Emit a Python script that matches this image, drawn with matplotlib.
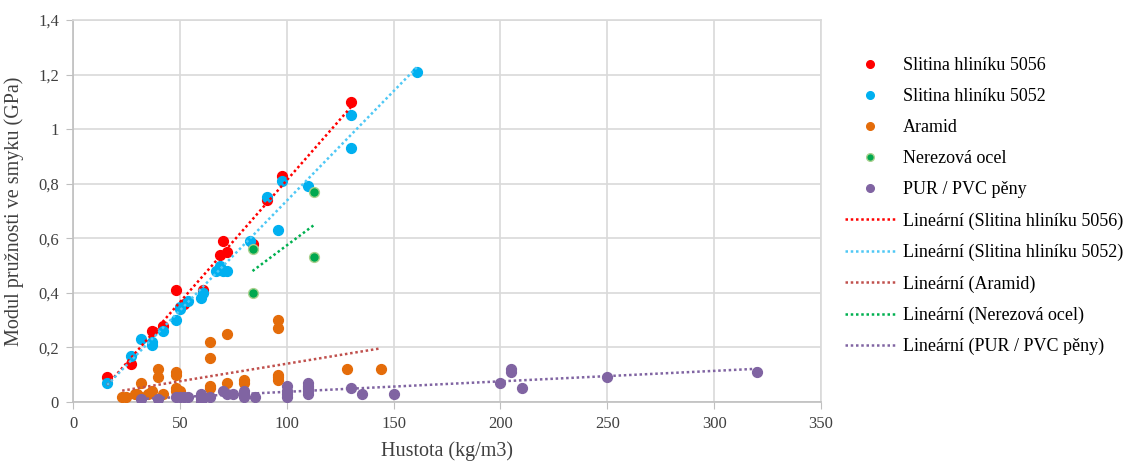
import numpy as np
import matplotlib
matplotlib.use("Agg")
import matplotlib.pyplot as plt
from matplotlib.lines import Line2D

plt.rcParams['font.family'] = ['Liberation Serif', 'DejaVu Serif']

# ---- data ----
al5056_x = [16, 27, 37, 42, 48, 52, 61, 69, 70, 72, 84, 91, 98, 130]
al5056_y = [0.09, 0.14, 0.26, 0.28, 0.41, 0.36, 0.41, 0.54, 0.59, 0.55, 0.58, 0.74, 0.83, 1.10]

al5052_x = [16, 27, 32, 37, 37, 42, 48, 50, 50, 54, 60, 61, 67, 69, 70, 72, 83, 91, 96, 98, 110, 130, 130, 161]
al5052_y = [0.07, 0.17, 0.23, 0.21, 0.22, 0.26, 0.30, 0.34, 0.35, 0.37, 0.38, 0.40, 0.48, 0.50, 0.48, 0.48,
            0.59, 0.75, 0.63, 0.81, 0.79, 1.05, 0.93, 1.21]

aramid_x = [23, 25, 29, 30, 32, 32, 35, 37, 40, 40, 42, 48, 48, 48, 48, 50, 50, 64, 64, 64, 64,
            72, 72, 80, 80, 96, 96, 96, 96, 96, 128, 144]
aramid_y = [0.02, 0.02, 0.03, 0.03, 0.07, 0.02, 0.03, 0.04, 0.12, 0.09, 0.03, 0.11, 0.10, 0.05, 0.04, 0.03, 0.04,
            0.22, 0.16, 0.06, 0.05, 0.25, 0.07, 0.08, 0.07, 0.30, 0.27, 0.10, 0.09, 0.08, 0.12, 0.12]

steel_x = [84, 84, 113, 113]
steel_y = [0.56, 0.40, 0.77, 0.53]

foam_x = [32, 40, 48, 50, 52, 54, 60, 60, 60, 60, 64, 70, 72, 75, 80, 80, 80, 85,
          100, 100, 100, 100, 110, 110, 110, 110, 110, 130, 135, 150, 200, 205, 205, 210, 250, 320]
foam_y = [0.01, 0.01, 0.02, 0.02, 0.02, 0.02, 0.03, 0.02, 0.01, 0.00, 0.02, 0.04, 0.03, 0.03, 0.04, 0.03, 0.02, 0.02,
          0.06, 0.04, 0.03, 0.02, 0.07, 0.06, 0.05, 0.04, 0.03, 0.05, 0.03, 0.03, 0.07, 0.12, 0.11, 0.05, 0.09, 0.11]

names = ["Slitina hliníku 5056", "Slitina hliníku 5052", "Aramid", "Nerezová ocel", "PUR / PVC pěny"]
xticks = [0, 50, 100, 150, 200, 250, 300, 350]
yticks = [0, 0.2, 0.4, 0.6, 0.8, 1.0, 1.2, 1.4]
ytick_labels = ["0", "0,2", "0,4", "0,6", "0,8", "1", "1,2", "1,4"]

series = [(al5056_x, al5056_y), (al5052_x, al5052_y), (aramid_x, aramid_y), (steel_x, steel_y), (foam_x, foam_y)]
colors = ["#FF0000", "#00B0F0", "#E46C0A", "#00A84F", "#8064A2"]
edges = ["#FF0000", "#00B0F0", "#E46C0A", "#A9D18E", "#8064A2"]
trend_colors = ["#FF0000", "#4FC8F5", "#C0504D", "#00B050", "#8064A2"]
dots = (0, (1, 1.1))

fig = plt.figure(figsize=(11.28, 4.61), dpi=100)
ax = fig.add_axes([73/1128, 1-402/461, (821-73)/1128, (402-20)/461])

for (xs, ys), c, ec in zip(series, colors, edges):
    ax.scatter(xs, ys, s=50, color=c, edgecolors=ec, linewidths=1.0, zorder=3)

for (xs, ys), tc in zip(series, trend_colors):
    xs = np.asarray(xs, float); ys = np.asarray(ys, float)
    k, q = np.polyfit(xs, ys, 1)
    xx = np.array([xs.min(), xs.max()])
    ax.plot(xx, k*xx + q, linestyle=dots, color=tc, linewidth=1.8, zorder=4)

ax.set_xlim(0, 350)
ax.set_ylim(0, 1.4)
ax.set_xticks(xticks)
ax.set_yticks(yticks)
ax.set_yticklabels(ytick_labels)
ax.grid(True, color="#D9D9D9", linewidth=1.2)
ax.set_axisbelow(True)
for s in ax.spines.values():
    s.set_color("#D9D9D9")
    s.set_linewidth(1.2)
ax.spines['left'].set_color("#BFBFBF")
ax.spines['bottom'].set_color("#BFBFBF")
ax.tick_params(axis='both', colors="#BFBFBF", labelcolor="#404040", labelsize=12, length=5, pad=5)
ax.set_xlabel("Hustota (kg/m3)", fontsize=14.5, color="#404040", labelpad=7)
ax.set_ylabel("Modul pružnosti ve smyku (GPa)", fontsize=14.5, color="#404040", labelpad=10)

handles = []
for n, c, ec in zip(names, colors, edges):
    handles.append(Line2D([], [], linestyle='none', marker='o', markersize=5.5, color=c, markeredgecolor=ec, label=n))
for n, tc in zip(names, trend_colors):
    handles.append(Line2D([], [], linestyle=dots, linewidth=1.8, color=tc, label="Lineární (" + n + ")"))
leg = fig.legend(handles=handles, loc='upper left', bbox_to_anchor=(845/1128, 1-57/461), frameon=False,
                 fontsize=13, handlelength=2.77, handletextpad=0.45, labelspacing=0.78, borderaxespad=0,
                 borderpad=0)
for t in leg.get_texts():
    t.set_color("#000000")

fig.savefig("out.png", dpi=100)
